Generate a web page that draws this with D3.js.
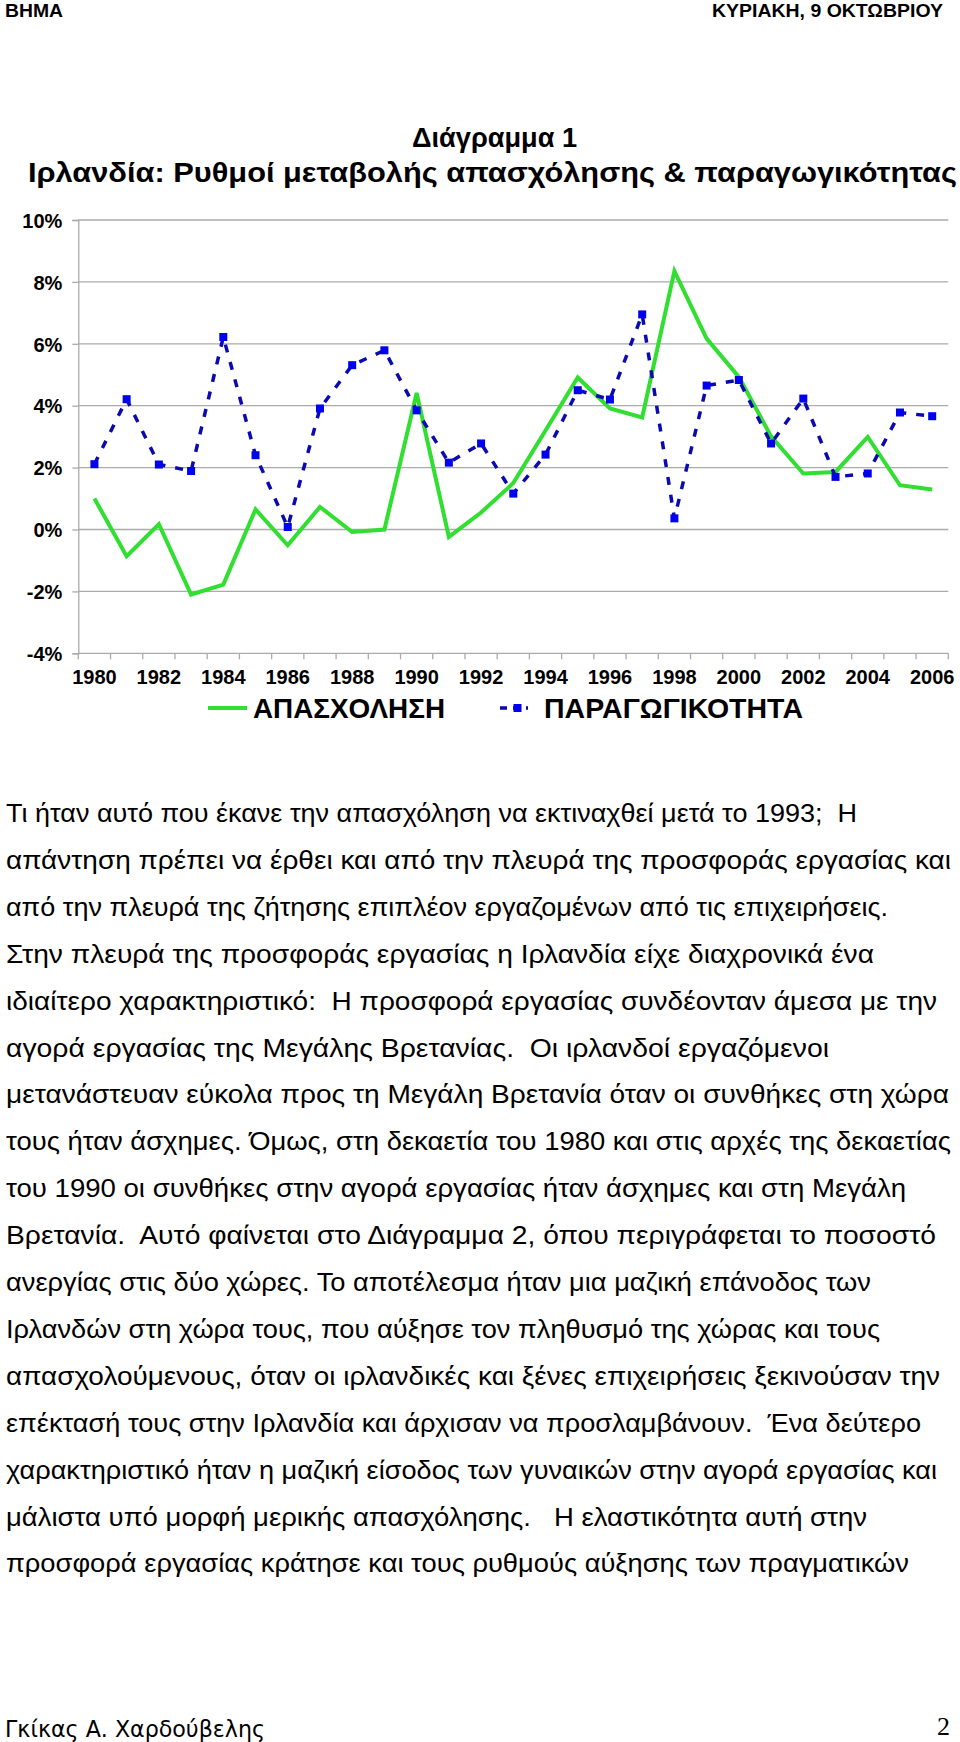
<!DOCTYPE html>
<html>
<head>
<meta charset="utf-8">
<script src="https://cdn.jsdelivr.net/npm/d3@7"></script>
<style>
  html, body { margin: 0; padding: 0; background: #fff; }
  svg { display: block; }
  text { white-space: pre; }
</style>
</head>
<body>
<svg id="page" width="960" height="1742"></svg>
<script>
// data
const years = [1980, 1981, 1982, 1983, 1984, 1985, 1986, 1987, 1988, 1989,
  1990, 1991, 1992, 1993, 1994, 1995, 1996, 1997, 1998, 1999,
  2000, 2001, 2002, 2003, 2004, 2005, 2006];
const employment = [1.0, -0.86, 0.17, -2.1, -1.78, 0.65, -0.51, 0.73, -0.08, 0.0,
  4.41, -0.24, 0.55, 1.5, 3.2, 4.91, 3.91, 3.62, 8.35, 6.17,
  4.93, 3.01, 1.81, 1.86, 2.99, 1.43, 1.29];
const productivity = [2.11, 4.21, 2.1, 1.89, 6.22, 2.4, 0.08, 3.91, 5.31, 5.79,
  3.85, 2.16, 2.78, 1.16, 2.42, 4.5, 4.2, 6.95, 0.36, 4.65,
  4.83, 2.78, 4.23, 1.7, 1.81, 3.78, 3.66];
const yTicks = [-4, -2, 0, 2, 4, 6, 8, 10];
const xLabels = [1980, 1982, 1984, 1986, 1988, 1990, 1992, 1994, 1996, 1998, 2000, 2002, 2004, 2006];
const seriesNames = ["ΑΠΑΣΧΟΛΗΣΗ", "ΠΑΡΑΓΩΓΙΚΟΤΗΤΑ"];

const headerLeft = "ΒΗΜΑ";
const headerRight = "ΚΥΡΙΑΚΗ, 9 ΟΚΤΩΒΡΙΟΥ";
const titleLines = ["Διάγραμμα 1", "Ιρλανδία: Ρυθμοί μεταβολής απασχόλησης & παραγωγικότητας"];
const bodyLines = [
  "Τι ήταν αυτό που έκανε την απασχόληση να εκτιναχθεί μετά το 1993;  Η",
  "απάντηση πρέπει να έρθει και από την πλευρά της προσφοράς εργασίας και",
  "από την πλευρά της ζήτησης επιπλέον εργαζομένων από τις επιχειρήσεις.",
  "Στην πλευρά της προσφοράς εργασίας η Ιρλανδία είχε διαχρονικά ένα",
  "ιδιαίτερο χαρακτηριστικό:  Η προσφορά εργασίας συνδέονταν άμεσα με την",
  "αγορά εργασίας της Μεγάλης Βρετανίας.  Οι ιρλανδοί εργαζόμενοι",
  "μετανάστευαν εύκολα προς τη Μεγάλη Βρετανία όταν οι συνθήκες στη χώρα",
  "τους ήταν άσχημες. Όμως, στη δεκαετία του 1980 και στις αρχές της δεκαετίας",
  "του 1990 οι συνθήκες στην αγορά εργασίας ήταν άσχημες και στη Μεγάλη",
  "Βρετανία.  Αυτό φαίνεται στο Διάγραμμα 2, όπου περιγράφεται το ποσοστό",
  "ανεργίας στις δύο χώρες. Το αποτέλεσμα ήταν μια μαζική επάνοδος των",
  "Ιρλανδών στη χώρα τους, που αύξησε τον πληθυσμό της χώρας και τους",
  "απασχολούμενους, όταν οι ιρλανδικές και ξένες επιχειρήσεις ξεκινούσαν την",
  "επέκτασή τους στην Ιρλανδία και άρχισαν να προσλαμβάνουν.  Ένα δεύτερο",
  "χαρακτηριστικό ήταν η μαζική είσοδος των γυναικών στην αγορά εργασίας και",
  "μάλιστα υπό μορφή μερικής απασχόλησης.   Η ελαστικότητα αυτή στην",
  "προσφορά εργασίας κράτησε και τους ρυθμούς αύξησης των πραγματικών"
];
const footerName = "Γκίκας Α. Χαρδούβελης";
const pageNo = "2";

const svg = d3.select("#page");
const sans = "'Liberation Sans', Arial, sans-serif";

// header
svg.append("text").attr("x", 5).attr("y", 17)
  .attr("font-family", sans).attr("font-size", 18).attr("font-weight", "bold")
  .attr("textLength", 58).attr("lengthAdjust", "spacingAndGlyphs")
  .text(headerLeft);
svg.append("text").attr("x", 943).attr("y", 17).attr("text-anchor", "end")
  .attr("font-family", sans).attr("font-size", 18).attr("font-weight", "bold")
  .attr("textLength", 231).attr("lengthAdjust", "spacingAndGlyphs")
  .text(headerRight);

// title
svg.append("text").attr("x", 412).attr("y", 147)
  .attr("font-family", sans).attr("font-size", 28).attr("font-weight", "bold")
  .attr("textLength", 165).attr("lengthAdjust", "spacingAndGlyphs")
  .text(titleLines[0]);
svg.append("text").attr("x", 28).attr("y", 182)
  .attr("font-family", sans).attr("font-size", 28).attr("font-weight", "bold")
  .attr("textLength", 929).attr("lengthAdjust", "spacingAndGlyphs")
  .text(titleLines[1]);

// chart
const margin = { top: 220, right: 948.3, bottom: 653.3, left: 78.3 };

const x = d3.scaleBand().domain(years).range([margin.left, margin.right]);
const cx = (d) => x(d) + x.bandwidth() / 2;

const y = d3.scaleLinear().domain([-4, 10]).range([margin.bottom, margin.top]);

const gridColor = "#ababab";

// gridlines
svg.append("g")
  .selectAll("line")
  .data(yTicks)
  .join("line")
  .attr("x1", margin.left)
  .attr("x2", margin.right)
  .attr("y1", (d) => y(d))
  .attr("y2", (d) => y(d))
  .attr("stroke", gridColor)
  .attr("stroke-width", 1.3);

// y axis
const gY = svg.append("g").attr("transform", "translate(" + margin.left + ",0)");
gY.call(
  d3.axisLeft(y)
    .tickValues(yTicks)
    .tickSize(6)
    .tickPadding(10)
    .tickFormat((d) => d + "%")
);
gY.select(".domain").attr("stroke", gridColor).attr("stroke-width", 1.3);
gY.selectAll(".tick line").attr("stroke", gridColor).attr("stroke-width", 1.3);
gY.selectAll(".tick text")
  .attr("font-family", sans)
  .attr("font-size", 20)
  .attr("font-weight", "bold")
  .attr("fill", "#000")
  .attr("dy", "0.36em");

// x axis: ticks at category boundaries, labels every other year
const gX = svg.append("g");
const bounds = years.map((d) => x(d)).concat([margin.right]);
gX.selectAll("line")
  .data(bounds)
  .join("line")
  .attr("x1", (d) => d)
  .attr("x2", (d) => d)
  .attr("y1", margin.bottom)
  .attr("y2", margin.bottom + 6)
  .attr("stroke", gridColor)
  .attr("stroke-width", 1.3);
gX.selectAll("text")
  .data(xLabels)
  .join("text")
  .attr("x", (d) => cx(d))
  .attr("y", 684)
  .attr("text-anchor", "middle")
  .attr("font-family", sans)
  .attr("font-size", 20)
  .attr("font-weight", "bold")
  .text((d) => d);

// lines
const green = "#30df30";
const blueDash = "#0a0ab0";
const blueMark = "#0000f0";

const line = d3.line().x((d) => cx(d.year)).y((d) => y(d.v));

const empData = years.map((d, i) => ({ year: d, v: employment[i] }));
const prodData = years.map((d, i) => ({ year: d, v: productivity[i] }));

svg.append("path")
  .datum(empData)
  .attr("d", line)
  .attr("fill", "none")
  .attr("stroke", green)
  .attr("stroke-width", 4)
  .attr("stroke-linejoin", "miter");

svg.append("path")
  .datum(prodData)
  .attr("d", line)
  .attr("fill", "none")
  .attr("stroke", blueDash)
  .attr("stroke-width", 3.5)
  .attr("stroke-dasharray", "8,10");

const sq = 8;
svg.append("g")
  .selectAll("rect")
  .data(prodData)
  .join("rect")
  .attr("x", (d) => cx(d.year) - sq / 2)
  .attr("y", (d) => y(d.v) - sq / 2)
  .attr("width", sq)
  .attr("height", sq)
  .attr("fill", blueMark);

// legend
const gL = svg.append("g");
gL.append("line")
  .attr("x1", 208).attr("x2", 247).attr("y1", 708).attr("y2", 708)
  .attr("stroke", green).attr("stroke-width", 4);
gL.append("text").attr("x", 253).attr("y", 718)
  .attr("font-family", sans).attr("font-size", 28).attr("font-weight", "bold")
  .attr("textLength", 192).attr("lengthAdjust", "spacingAndGlyphs")
  .text(seriesNames[0]);
gL.append("line")
  .attr("x1", 500).attr("x2", 528).attr("y1", 708).attr("y2", 708)
  .attr("stroke", blueDash).attr("stroke-width", 3.5)
  .attr("stroke-dasharray", "7,6");
gL.append("rect")
  .attr("x", 517.5 - sq / 2).attr("y", 708 - sq / 2)
  .attr("width", sq).attr("height", sq)
  .attr("fill", blueMark);
gL.append("text").attr("x", 544).attr("y", 718)
  .attr("font-family", sans).attr("font-size", 28).attr("font-weight", "bold")
  .attr("textLength", 259).attr("lengthAdjust", "spacingAndGlyphs")
  .text(seriesNames[1]);

// body text
const lineEnds = [857, 951, 888, 874, 937, 829, 949, 951, 906, 936, 871, 880, 940, 921, 937, 867, 909];
svg.append("g")
  .selectAll("text")
  .data(bodyLines)
  .join("text")
  .attr("x", 6)
  .attr("y", (d, i) => 822 + i * 46.9)
  .attr("font-family", sans)
  .attr("font-size", 26)
  .attr("textLength", (d, i) => lineEnds[i] - 6)
  .attr("lengthAdjust", "spacingAndGlyphs")
  .text((d) => d);

// footer
svg.append("text").attr("x", 5).attr("y", 1737)
  .attr("font-family", "'DejaVu Sans', Verdana, sans-serif").attr("font-size", 23)
  .attr("textLength", 260).attr("lengthAdjust", "spacingAndGlyphs")
  .text(footerName);
svg.append("text").attr("x", 950).attr("y", 1735).attr("text-anchor", "end")
  .attr("font-family", "'Liberation Serif', 'Times New Roman', serif").attr("font-size", 26)
  .text(pageNo);
</script>
</body>
</html>
